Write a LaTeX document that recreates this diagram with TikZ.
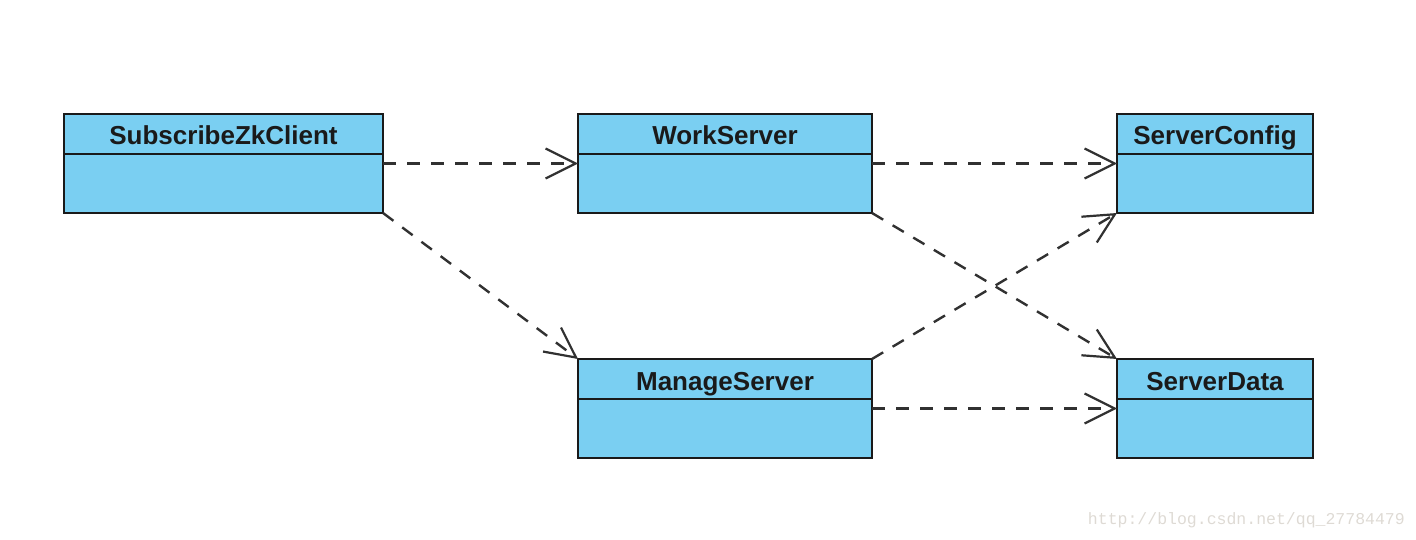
\documentclass[tikz,border=0pt]{standalone}
\usepackage{fontspec}
\setmainfont{Liberation Sans}
\newfontfamily\wmfont{Liberation Mono}
\usetikzlibrary{arrows.meta}
\definecolor{clsfill}{HTML}{7ACFF2}
\definecolor{clsline}{HTML}{1A1A1A}
\definecolor{wmgray}{HTML}{DEDAD4}
\tikzset{
  cls/.style={draw=clsline, fill=clsfill, line width=2pt, inner sep=0pt, outer sep=0pt},
  divline/.style={draw=clsline, line width=2pt},
  ttl/.style={font=\fontsize{26}{30}\selectfont\bfseries, text=clsline, inner sep=0pt, anchor=base},
  dep/.style={draw=clsline!90, line width=2.4pt, dash pattern=on 13pt off 11pt,
    -{Straight Barb[length=30pt,width=30pt,line width=2.2pt]}},
}
\begin{document}
\begin{tikzpicture}[x=1pt,y=-1pt]
\useasboundingbox (0,0) rectangle (1416,540);
% classes
\node[cls, minimum width=319pt, minimum height=99pt] (sub) at (223.5,163.5) {};
\node[cls, minimum width=294pt, minimum height=99pt] (work) at (725,163.5) {};
\node[cls, minimum width=196pt, minimum height=99pt] (conf) at (1215,163.5) {};
\node[cls, minimum width=294pt, minimum height=99pt] (man) at (725,408.5) {};
\node[cls, minimum width=196pt, minimum height=99pt] (data) at (1215,408.5) {};
\foreach \n in {sub,work,conf,man,data}{
  \draw[divline] ([yshift=-40pt]\n.north west) -- ([yshift=-40pt]\n.north east);
}
\node[ttl] (subt) at ([yshift=-31pt]sub.north) {SubscribeZkClient};
\node[ttl] (workt) at ([yshift=-31pt]work.north) {WorkServer};
\node[ttl] (conft) at ([yshift=-31pt]conf.north) {ServerConfig};
\node[ttl] (mant) at ([yshift=-31pt]man.north) {ManageServer};
\node[ttl] (datat) at ([yshift=-31pt]data.north) {ServerData};
% dependencies
\draw[dep] (sub.east) -- (work.west);
\draw[dep] (sub.south east) -- (man.north west);
\draw[dep] (work.east) -- (conf.west);
\draw[dep] (work.south east) -- (data.north west);
\draw[dep] (man.north east) -- (conf.south west);
\draw[dep] (man.east) -- (data.west);
% watermark
\node[font=\wmfont\fontsize{16.5}{18}\selectfont, text=wmgray, anchor=east, inner sep=0pt] (wm) at (1405,520) {http://blog.csdn.net/qq\_27784479};
\end{tikzpicture}
\end{document}
